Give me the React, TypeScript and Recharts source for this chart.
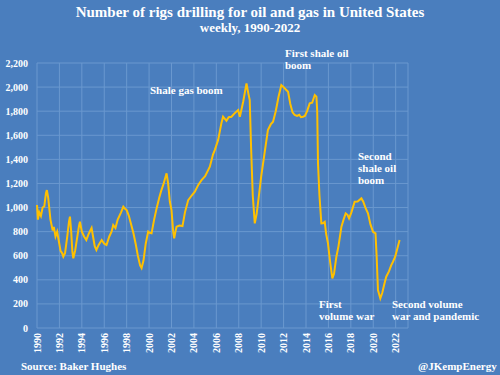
import { LineChart, Line, XAxis, YAxis, CartesianGrid } from 'recharts'

const years = [
  1990.0, 1990.08, 1990.2, 1990.35, 1990.5, 1990.65, 1990.8, 1990.88, 1991.0, 1991.2,
  1991.4, 1991.5, 1991.65, 1991.8, 1991.95, 1992.1, 1992.25, 1992.35, 1992.5, 1992.7,
  1992.85, 1992.94, 1993.05, 1993.15, 1993.24, 1993.4, 1993.6, 1993.75, 1993.83, 1994.0,
  1994.2, 1994.4, 1994.6, 1994.87, 1995.0, 1995.15, 1995.3, 1995.5, 1995.77, 1996.0,
  1996.2, 1996.45, 1996.65, 1996.8, 1997.0, 1997.2, 1997.5, 1997.7, 1997.85, 1998.0,
  1998.2, 1998.4, 1998.6, 1998.8, 1999.0, 1999.2, 1999.33, 1999.5, 1999.7, 1999.92,
  2000.05, 2000.22, 2000.45, 2000.67, 2000.9, 2001.1, 2001.3, 2001.56, 2001.7, 2001.85,
  2002.0, 2002.15, 2002.24, 2002.35, 2002.45, 2002.7, 2002.98, 2003.2, 2003.49, 2003.8,
  2004.08, 2004.4, 2004.68, 2005.0, 2005.42, 2005.7, 2005.86, 2006.16, 2006.45, 2006.6,
  2006.9, 2007.1, 2007.35, 2007.6, 2007.94, 2008.1, 2008.4, 2008.69, 2008.85, 2008.98,
  2009.1, 2009.25, 2009.43, 2009.6, 2009.8, 2010.0, 2010.3, 2010.6, 2010.85, 2011.06,
  2011.3, 2011.55, 2011.8, 2012.0, 2012.2, 2012.4, 2012.6, 2012.8, 2012.99, 2013.2,
  2013.4, 2013.55, 2013.73, 2013.9, 2014.1, 2014.33, 2014.55, 2014.78, 2014.93, 2015.0,
  2015.07, 2015.2, 2015.37, 2015.5, 2015.67, 2015.8, 2015.96, 2016.15, 2016.35, 2016.5,
  2016.71, 2016.9, 2017.16, 2017.35, 2017.54, 2017.7, 2017.84, 2018.05, 2018.34, 2018.6,
  2018.94, 2019.1, 2019.3, 2019.53, 2019.75, 2019.98, 2020.2, 2020.3, 2020.42, 2020.63,
  2020.8, 2021.0, 2021.16, 2021.4, 2021.6, 2021.76, 2021.95, 2022.15, 2022.35,
]

const rigs = [
  1021, 900, 960, 930, 1000, 1010, 1120, 1145, 1080, 900,
  810, 840, 760, 800, 720, 640, 620, 592, 620, 760,
  880, 924, 800, 640, 578, 640, 760, 850, 882, 800,
  760, 730, 780, 830, 760, 680, 647, 690, 730, 700,
  689, 760, 800, 855, 830, 900, 960, 1007, 990, 979,
  930, 860, 788, 700, 600, 520, 498, 560, 700, 800,
  790, 786, 900, 993, 1080, 1145, 1200, 1284, 1200, 1050,
  979, 800, 744, 800, 841, 850, 846, 960, 1062, 1100,
  1131, 1190, 1228, 1260, 1339, 1440, 1477, 1560, 1700, 1754,
  1720, 1750, 1754, 1780, 1809, 1754, 1880, 2031, 1950, 1892,
  1500, 1100, 869, 950, 1100, 1256, 1450, 1643, 1690, 1712,
  1800, 1920, 2017, 2000, 1980, 1961, 1860, 1790, 1768, 1760,
  1770, 1750, 1754, 1760, 1800, 1865, 1870, 1934, 1920, 1800,
  1367, 1100, 869, 870, 882, 780, 703, 550, 412, 450,
  592, 680, 841, 900, 952, 940, 910, 960, 1048, 1050,
  1076, 1050, 1000, 952, 860, 799, 786, 600, 315, 246,
  290, 370, 426, 470, 520, 550, 590, 660, 730,
]

const xTicks = [1990, 1992, 1994, 1996, 1998, 2000, 2002, 2004, 2006, 2008, 2010, 2012, 2014, 2016, 2018, 2020, 2022]
const yTicks = [0, 200, 400, 600, 800, 1000, 1200, 1400, 1600, 1800, 2000, 2200]

const data = years.map((y, i) => ({ year: y, rigs: rigs[i] }))

const BG = '#4a7ebe'
const FONT = '"Liberation Serif", "Times New Roman", serif'

const XTick = (props: any) => {
  const { x, y, payload } = props
  return (
    <text
      transform={`translate(${x},${y}) rotate(-90)`}
      textAnchor="end"
      dy="0.35em"
      fill="#fff"
      fontSize={10}
      fontWeight="bold"
      fontFamily={FONT}
    >
      {payload.value}
    </text>
  )
}

const note = (left: number, top: number, lines: string[], size = 11) => (
  <div
    style={{
      position: 'absolute',
      left,
      top,
      color: '#fff',
      fontWeight: 'bold',
      fontSize: size,
      lineHeight: '12px',
      whiteSpace: 'nowrap',
    }}
  >
    {lines.map((l) => (
      <div key={l}>{l}</div>
    ))}
  </div>
)

export default function App() {
  return (
    <div
      style={{
        position: 'absolute',
        left: 0,
        top: 0,
        width: 500,
        height: 375,
        background: BG,
        fontFamily: FONT,
        overflow: 'hidden',
      }}
    >
      <LineChart width={500} height={375} data={data} margin={{ top: 63, right: 92, bottom: 0, left: 0 }}>
        <CartesianGrid stroke="#6a98cf" strokeWidth={1} />
        <XAxis
          dataKey="year"
          type="number"
          domain={[1990, 2023.1]}
          ticks={xTicks}
          interval={0}
          tick={<XTick />}
          tickLine={false}
          axisLine={false}
          tickSize={0}
          tickMargin={5}
          height={47}
        />
        <YAxis
          type="number"
          domain={[0, 2200]}
          ticks={yTicks}
          interval={0}
          width={37}
          tickLine={false}
          axisLine={false}
          tickSize={0}
          tickMargin={9}
          tickFormatter={(v: number) => v.toLocaleString('en-US')}
          tick={{ fill: '#fff', fontSize: 10, fontWeight: 'bold', fontFamily: FONT }}
        />
        <Line
          type="linear"
          dataKey="rigs"
          stroke="#ffc000"
          strokeWidth={2}
          dot={false}
          isAnimationActive={false}
        />
      </LineChart>
      <div
        style={{
          position: 'absolute',
          left: 0,
          width: 500,
          top: 4,
          textAlign: 'center',
          color: '#fff',
          fontWeight: 'bold',
        }}
      >
        <div style={{ fontSize: 15, lineHeight: '17px' }}>
          Number of rigs drilling for oil and gas in United States
        </div>
        <div style={{ fontSize: 13, lineHeight: '14px' }}>weekly, 1990-2022</div>
      </div>
      {note(150, 84, ['Shale gas boom'])}
      {note(285, 47, ['First shale oil', 'boom'])}
      {note(358, 150, ['Second', 'shale oil', 'boom'])}
      {note(319, 298, ['First', 'volume war'])}
      {note(392, 298, ['Second volume', 'war and pandemic'])}
      {note(21, 360, ['Source: Baker Hughes'])}
      {note(418, 360, ['@JKempEnergy'])}
    </div>
  )
}
